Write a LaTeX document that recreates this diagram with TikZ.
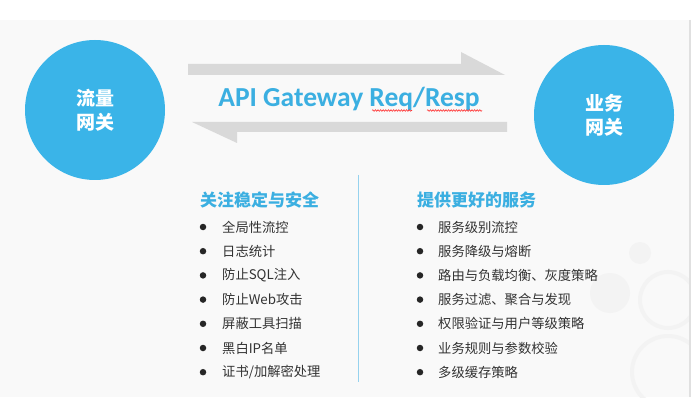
\documentclass[tikz,border=0pt]{standalone}
\usepackage{fontspec}
\setmainfont{Noto Sans CJK SC}
\newfontfamily\cjk{Noto Sans CJK SC}
\newfontfamily\cali{Carlito}
\usetikzlibrary{decorations.pathmorphing}
\definecolor{gwblue}{RGB}{58,180,232}
\definecolor{ttblue}{RGB}{59,175,225}
\definecolor{arrowgray}{RGB}{217,217,217}
\definecolor{panelbg}{RGB}{249,249,249}
\definecolor{itemtext}{RGB}{50,50,50}
\definecolor{divline}{RGB}{150,210,238}
\definecolor{decor}{RGB}{243,243,243}
\tikzset{
  gwcircle/.style={circle, fill=gwblue, minimum size=140pt, inner sep=0pt,
    text=white, align=center, font=\cjk\bfseries\fontsize{19}{24}\selectfont},
  harrow/.style={fill=arrowgray, draw=none},
  heading/.style={anchor=west, inner sep=0pt, text=ttblue,
    font=\cjk\bfseries\fontsize{17}{20}\selectfont},
  itemnode/.style={anchor=west, inner sep=0pt, text=itemtext,
    font=\cjk\fontsize{13.3}{16}\selectfont},
  bulletdot/.style={circle, fill=black!85, minimum size=6.5pt, inner sep=0pt},
  spellwave/.style={draw=red!80, line width=0.6pt,
    decorate, decoration={snake, amplitude=0.8pt, segment length=2.6pt}},
  ring/.style={draw=decor, line width=4pt},
}
\begin{document}
\begin{tikzpicture}[x=1pt, y=-1pt]
\useasboundingbox (0,0) rectangle (692,403);
\fill[white] (0,0) rectangle (692,403);
% panel
\fill[panelbg] (0,20) rectangle (690,397);
% faint decorations
\begin{scope}
\clip (0,20) rectangle (690,397);
\fill[decor] (640,253) circle (11);
\fill[decor] (610,293) circle (20);
\draw[ring] (668,300) circle (28);
\draw[ring] (668,372) circle (36);
\end{scope}
\draw[black!12, line width=1.2pt] (690,20) -- (690,397);
% circles
\node[gwcircle] (flow) at (95,110) {流量\\网关};
\node[gwcircle] (biz) at (604,115) {业务\\网关};
% arrows (half-headed)
\fill[harrow] (188,64) -- (461,64) -- (461,52) -- (505,75) -- (188,75) -- cycle;
\fill[harrow] (192,122) -- (507,122) -- (507,132) -- (237,132) -- (237,143) -- cycle;
% title
\node[anchor=base, inner sep=0pt, text=ttblue, font=\cali\bfseries\fontsize{27.5}{30}\selectfont]
  (title) at (349,107) {API Gateway Req/Resp};
\draw[spellwave] (372,110.5) -- (412,110.5);
\draw[spellwave] (427,110.5) -- (482,110.5);
% divider
\draw[divline, line width=1pt] (358,175) -- (358,382);
% headings
\node[heading] (lh) at (200,200) {关注稳定与安全};
\node[heading] (rh) at (417,200) {提供更好的服务};
% left items
\foreach \t [count=\i] in {全局性流控, 日志统计, 防止SQL注入, 防止Web攻击, 屏蔽工具扫描, 黑白IP名单, 证书/加解密处理}{
  \pgfmathsetmacro{\yy}{227+24.2*(\i-1)}
  \node[bulletdot] (lb\i) at (203,\yy) {};
  \node[itemnode] (li\i) at (222,\yy) {\t};
}
% right items
\foreach \t [count=\i] in {服务级别流控, 服务降级与熔断, 路由与负载均衡、灰度策略, 服务过滤、聚合与发现, 权限验证与用户等级策略, 业务规则与参数校验, 多级缓存策略}{
  \pgfmathsetmacro{\yy}{227+24.2*(\i-1)}
  \node[bulletdot] (rb\i) at (420,\yy) {};
  \node[itemnode] (ri\i) at (438,\yy) {\t};
}
\end{tikzpicture}
\end{document}
